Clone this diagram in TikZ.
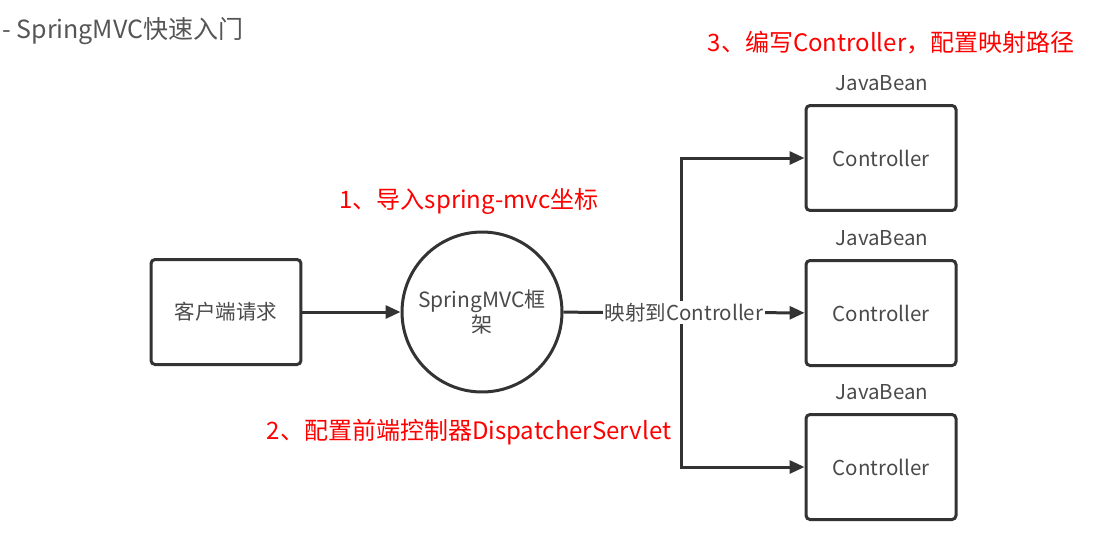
\documentclass[tikz,border=0pt]{standalone}
\usepackage{fontspec}
\setmainfont{Noto Sans CJK SC}
\usepackage{xcolor}
\usepackage{tikz}
\usetikzlibrary{arrows.meta}

\definecolor{linegray}{HTML}{333333}
\definecolor{textgray}{HTML}{4A4A4A}
\definecolor{titlegray}{HTML}{555555}
\definecolor{notered}{HTML}{FF0000}

\tikzset{
  box/.style={draw=linegray, line width=0.06cm, rectangle, rounded corners=0.08cm, minimum width=3.0cm, minimum height=2.1cm, fill=white, text=textgray, font=\fontsize{0.41cm}{0.49cm}\selectfont},
  flow/.style={draw=linegray, line width=0.06cm, -{Triangle[length=0.3cm, width=0.26cm]}},
  beanlabel/.style={text=textgray, font=\fontsize{0.41cm}{0.49cm}\selectfont},
  note/.style={text=notered, font=\fontsize{0.48cm}{0.58cm}\selectfont},
}

\begin{document}
\begin{tikzpicture}[x=0.02cm, y=-0.02cm]%
\useasboundingbox (0,0) rectangle (1101,542);%
\node[text=titlegray, font=\fontsize{0.5cm}{0.6cm}\selectfont, anchor=west, inner sep=0pt] (title) at (2, 31) {- SpringMVC快速入门};%
\node[box] (client) at (226, 312) {客户端请求};%
\node[draw=linegray, line width=0.06cm, circle, minimum size=3.2cm, fill=white, text=textgray, align=center, font=\fontsize{0.42cm}{0.5cm}\selectfont] (mvc) at (482, 312) {SpringMVC框\\架};%
\node[box] (ctrl1) at (881, 158) {Controller};%
\node[box] (ctrl2) at (881, 313) {Controller};%
\node[box] (ctrl3) at (881, 467) {Controller};%
\node[beanlabel] (bean1) at (882, 83) {JavaBean};%
\node[beanlabel] (bean2) at (882, 238) {JavaBean};%
\node[beanlabel] (bean3) at (882, 392) {JavaBean};%
\coordinate (split) at (681, 313);%
\draw[flow] (client) -- (mvc);%
\draw[flow] (split) |- (ctrl1);%
\draw[flow] (split) |- (ctrl3);%
\draw[flow] (mvc) -- node[fill=white, inner sep=1pt, text=textgray, font=\fontsize{0.41cm}{0.49cm}\selectfont] (maplabel) {映射到Controller} (ctrl2);%
\node[note] (step1) at (469, 201) {1、导入spring-mvc坐标};%
\node[note] (step2) at (469, 432) {2、配置前端控制器DispatcherServlet};%
\node[note] (step3) at (891, 43) {3、编写Controller，配置映射路径};%
\end{tikzpicture}
\end{document}
